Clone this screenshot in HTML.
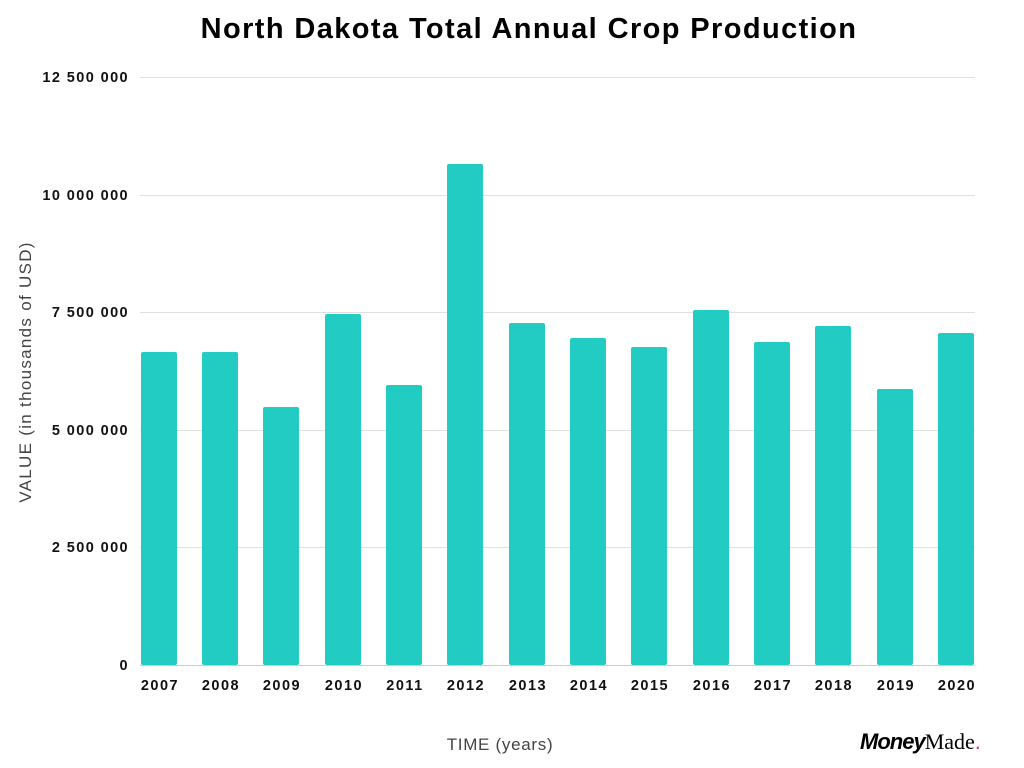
<!DOCTYPE html>
<html><head><meta charset="utf-8"><style>
html,body{margin:0;padding:0;background:#fff;width:1024px;height:768px;overflow:hidden}
svg{display:block}
text{font-family:"Liberation Sans",sans-serif}
</style></head><body>
<svg width="1024" height="768" viewBox="0 0 1024 768">
<text x="529" y="38" text-anchor="middle" font-size="29" font-weight="bold" fill="#000" letter-spacing="1.4">North Dakota Total Annual Crop Production</text>
<g stroke="#e0e0e0" stroke-width="1">
<line x1="140" x2="975" y1="77.5" y2="77.5"/>
<line x1="140" x2="975" y1="195.5" y2="195.5"/>
<line x1="140" x2="975" y1="312.5" y2="312.5"/>
<line x1="140" x2="975" y1="430.5" y2="430.5"/>
<line x1="140" x2="975" y1="547.5" y2="547.5"/>
</g>
<line x1="140" x2="975" y1="665.5" y2="665.5" stroke="#ccc"/>
<g font-size="14.5" font-weight="bold" fill="#111" text-anchor="end" letter-spacing="1.4">
<text x="129" y="82">12 500 000</text>
<text x="129" y="200">10 000 000</text>
<text x="129" y="317">7 500 000</text>
<text x="129" y="435">5 000 000</text>
<text x="129" y="552">2 500 000</text>
<text x="129" y="670">0</text>
</g>
<g fill="#23ccc2">
<rect x="141" y="352" width="36" height="313" rx="2"/>
<rect x="202" y="352" width="36" height="313" rx="2"/>
<rect x="263" y="407" width="36" height="258" rx="2"/>
<rect x="325" y="314" width="36" height="351" rx="2"/>
<rect x="386" y="385" width="36" height="280" rx="2"/>
<rect x="447" y="164" width="36" height="501" rx="2"/>
<rect x="509" y="323" width="36" height="342" rx="2"/>
<rect x="570" y="338" width="36" height="327" rx="2"/>
<rect x="631" y="347" width="36" height="318" rx="2"/>
<rect x="693" y="310" width="36" height="355" rx="2"/>
<rect x="754" y="342" width="36" height="323" rx="2"/>
<rect x="815" y="326" width="36" height="339" rx="2"/>
<rect x="877" y="389" width="36" height="276" rx="2"/>
<rect x="938" y="333" width="36" height="332" rx="2"/>
</g>
<g font-size="14.5" font-weight="bold" fill="#111" text-anchor="middle" letter-spacing="1.5">
<text x="160" y="690">2007</text><text x="221" y="690">2008</text><text x="282" y="690">2009</text>
<text x="344" y="690">2010</text><text x="405" y="690">2011</text><text x="466" y="690">2012</text>
<text x="528" y="690">2013</text><text x="589" y="690">2014</text><text x="650" y="690">2015</text>
<text x="712" y="690">2016</text><text x="773" y="690">2017</text><text x="834" y="690">2018</text>
<text x="896" y="690">2019</text><text x="957" y="690">2020</text>
</g>
<text x="500" y="750" text-anchor="middle" font-size="17" fill="#444" letter-spacing="0.7">TIME (years)</text>
<text transform="translate(31,372) rotate(-90)" text-anchor="middle" font-size="17" fill="#444" letter-spacing="1.3">VALUE (in thousands of  USD)</text>
<text x="860" y="749" font-size="22" fill="#000"><tspan font-weight="bold" font-style="italic" letter-spacing="-1">Money</tspan><tspan font-family="Liberation Serif,serif">Made</tspan><tspan fill="#e8336b">.</tspan></text>
</svg>
</body></html>
